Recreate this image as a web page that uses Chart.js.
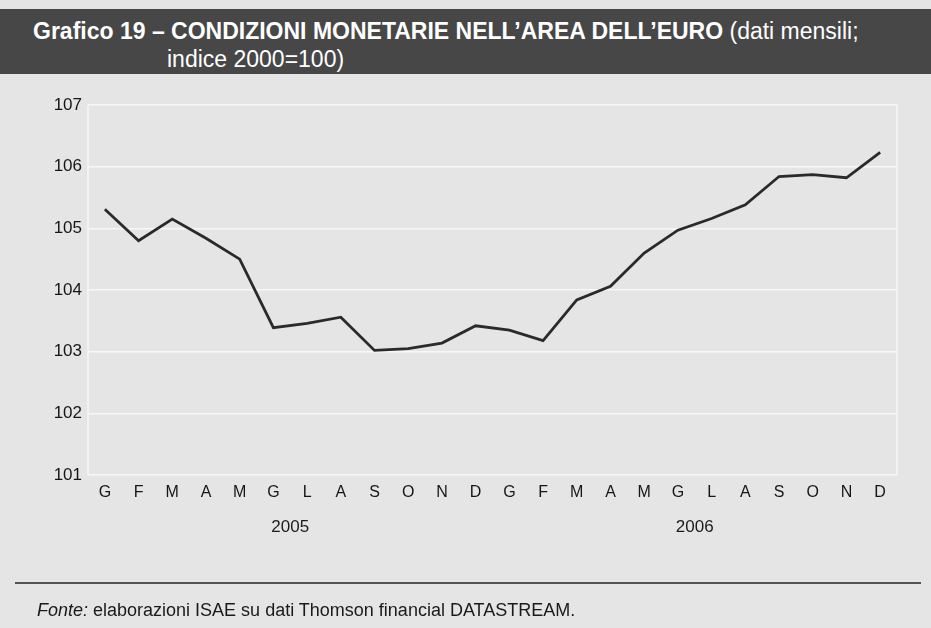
<!DOCTYPE html>
<html>
<head>
<meta charset="utf-8">
<script src="https://cdn.jsdelivr.net/npm/chart.js@4"></script>
<style>
  html, body { margin: 0; padding: 0; }
  body { width: 931px; height: 628px; background: #e5e5e5; position: relative; overflow: hidden; font-family: "Liberation Sans", Arial, sans-serif; }
  #titlebar { position: absolute; left: 0; top: 9px; width: 931px; height: 65px; background: #474747; }
  #title { position: absolute; left: 33px; top: 17px; color: #fff; font-size: 23px; line-height: 28px; white-space: nowrap; }
  #title b { font-weight: bold; }
  #title .l2 { padding-left: 134px; }
  #wrap { position: absolute; left: 0; top: 0; width: 931px; height: 628px; }
  #rule { position: absolute; left: 15px; top: 582px; width: 906px; height: 2px; background: #555; }
  #source { position: absolute; left: 37px; top: 600px; font-size: 18px; line-height: 20px; color: #1a1a1a; white-space: nowrap; }
</style>
</head>
<body>
<div id="titlebar"></div>
<div id="title"><b>Grafico 19 – CONDIZIONI MONETARIE NELL’AREA DELL’EURO</b> (dati mensili;<br><span class="l2">indice 2000=100)</span></div>
<div id="wrap"><canvas id="c" width="931" height="628"></canvas></div>
<div id="rule"></div>
<div id="source"><i>Fonte:</i> elaborazioni ISAE su dati Thomson financial DATASTREAM.</div>
<script>
const months = ["G","F","M","A","M","G","L","A","S","O","N","D","G","F","M","A","M","G","L","A","S","O","N","D"];
const years = ["2005", "2006"];
const values = [105.31, 104.80, 105.15, 104.84, 104.50, 103.39, 103.46, 103.56, 103.02, 103.05, 103.14, 103.42,
                103.35, 103.18, 103.84, 104.06, 104.60, 104.97, 105.16, 105.38, 105.84, 105.87, 105.82, 106.23];
const yTicks = [101, 102, 103, 104, 105, 106, 107];
const FONT = '"Liberation Sans", Arial, sans-serif';

const yearLabels = {
  id: 'yearLabels',
  afterDraw(chart) {
    const x = chart.scales.x, ctx = chart.ctx;
    ctx.save();
    ctx.font = '17px ' + FONT;
    ctx.fillStyle = '#1a1a1a';
    ctx.textAlign = 'center';
    ctx.textBaseline = 'middle';
    years.forEach((yr, i) => {
      const a = x.getPixelForValue(i * 12), b = x.getPixelForValue(i * 12 + 11);
      ctx.fillText(yr, (a + b) / 2, 527);
    });
    ctx.restore();
  }
};
const frame = {
  id: 'frame',
  beforeDatasetsDraw(chart) {
    const a = chart.chartArea, ctx = chart.ctx;
    ctx.save();
    ctx.strokeStyle = '#f6f6f6';
    ctx.lineWidth = 1.5;
    ctx.beginPath();
    ctx.moveTo(a.left, a.top); ctx.lineTo(a.left, a.bottom);
    ctx.moveTo(a.right, a.top); ctx.lineTo(a.right, a.bottom);
    ctx.stroke();
    ctx.restore();
  }
};

new Chart(document.getElementById('c'), {
  type: 'line',
  data: {
    labels: months,
    datasets: [{
      data: values,
      borderColor: '#2a2a2a',
      borderWidth: 2.8,
      pointRadius: 0,
      tension: 0,
      fill: false
    }]
  },
  options: {
    responsive: false,
    animation: false,
    layout: { padding: { left: 0, top: 105, right: 34, bottom: 120 } },
    plugins: { legend: { display: false }, tooltip: { enabled: false } },
    scales: {
      x: {
        offset: true,
        grid: { display: false, drawTicks: false },
        border: { display: false },
        ticks: { color: '#161616', font: { size: 16, family: FONT }, padding: 8, maxRotation: 0, autoSkip: false },
        afterFit(s) { s.height = 33; }
      },
      y: {
        min: 101, max: 107,
        afterBuildTicks(s) { s.ticks = yTicks.map(v => ({ value: v })); },
        grid: { color: '#f7f7f7', lineWidth: 1.5, drawTicks: false },
        border: { display: false },
        ticks: { color: '#161616', font: { size: 17, family: FONT }, padding: 6 },
        afterFit(s) { s.width = 88; }
      }
    }
  },
  plugins: [yearLabels, frame]
});
</script>
</body>
</html>
